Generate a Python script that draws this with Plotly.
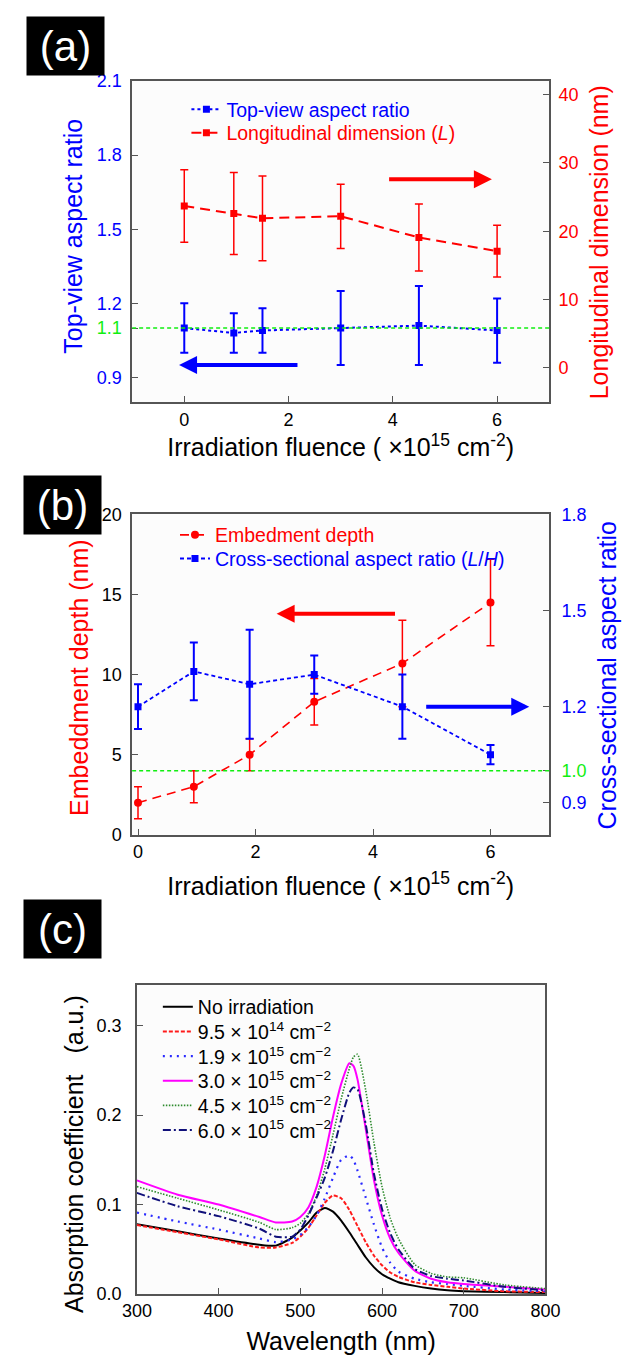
import plotly.graph_objects as go

W, H = 629, 1365

# ---------------- data ----------------
# panel (a)
fluence_a = [0, 0.95, 1.5, 3, 4.5, 6]
topview_ar = [1.10, 1.08, 1.09, 1.10, 1.11, 1.09]
topview_err = [0.10, 0.08, 0.09, 0.15, 0.16, 0.13]
long_dim = [23.7, 22.6, 21.9, 22.2, 19.1, 17.1]
long_err = [5.3, 6.0, 6.2, 4.7, 4.9, 3.8]
ref_a = 1.1

# panel (b)
fluence_b = [0, 0.95, 1.9, 3, 4.5, 6]
embed_depth = [2.0, 3.0, 5.0, 8.3, 10.7, 14.5]
embed_err = [1.0, 1.0, 1.0, 1.45, 2.7, 2.7]
cross_ar = [1.20, 1.31, 1.27, 1.30, 1.20, 1.05]
cross_err = [0.07, 0.09, 0.17, 0.06, 0.10, 0.03]
ref_b = 1.0

# panel (c)
wavelength = [300, 350, 400, 450, 470, 490, 500, 510, 520, 530, 540, 550, 560,
              565, 570, 580, 590, 600, 610, 620, 640, 660, 680, 700, 750, 800]
abs_none = [.078, .070, .062, .055, .054, .063, .071, .080, .091, .096, .092, .082, .069,
            .062, .055, .041, .030, .022, .017, .013, .009, .006, .004, .003, .002, .001]
abs_95e14 = [.077, .069, .061, .052, .052, .057, .064, .074, .088, .102, .110, .107, .094,
             .085, .076, .058, .043, .032, .024, .019, .013, .010, .008, .006, .003, .002]
abs_19e15 = [.091, .081, .072, .062, .058, .061, .066, .075, .088, .107, .130, .150, .155,
             .150, .138, .108, .078, .052, .035, .025, .017, .013, .011, .009, .005, .003]
abs_30e15 = [.127, .111, .100, .086, .080, .081, .086, .097, .120, .155, .198, .235, .258,
             .255, .240, .185, .128, .088, .062, .046, .026, .017, .013, .011, .008, .005]
abs_45e15 = [.120, .107, .094, .080, .072, .074, .079, .090, .110, .140, .178, .218, .252,
             .265, .268, .228, .170, .120, .085, .062, .033, .023, .019, .018, .010, .006]
abs_60e15 = [.113, .098, .087, .073, .064, .064, .072, .088, .108, .130, .160, .195, .225,
             .231, .229, .190, .135, .095, .068, .050, .028, .020, .017, .015, .008, .004]
labels_c = ["No irradiation",
            "9.5 × 10<sup>14</sup> cm<sup>−2</sup>",
            "1.9 × 10<sup>15</sup> cm<sup>−2</sup>",
            "3.0 × 10<sup>15</sup> cm<sup>−2</sup>",
            "4.5 × 10<sup>15</sup> cm<sup>−2</sup>",
            "6.0 × 10<sup>15</sup> cm<sup>−2</sup>"]

FONT = "Arial, Liberation Sans, sans-serif"
BLUE = "#0000ff"
RED = "#ff0000"
GREEN = "#11ee11"
FRAME = "#555555"
TITLE_SIZE = 25
TICK_SIZE = 18
LEG_SIZE = 19.5


def px(x):
    return x / W


def py(y):
    return 1 - y / H


fig = go.Figure()

# ---- (a)
fig.add_trace(go.Scatter(
    x=fluence_a, y=topview_ar, name="Top-view aspect ratio", mode="lines+markers",
    line=dict(color=BLUE, width=2, dash="3px,3px"),
    marker=dict(symbol="square", size=7, color=BLUE),
    error_y=dict(type="data", array=topview_err, color=BLUE, thickness=2, width=4),
    xaxis="x", yaxis="y", legend="legend"))
fig.add_trace(go.Scatter(
    x=fluence_a, y=long_dim, name="Longitudinal dimension (<i>L</i>)", mode="lines+markers",
    line=dict(color=RED, width=2, dash="10px,6px"),
    marker=dict(symbol="square", size=7, color=RED),
    error_y=dict(type="data", array=long_err, color=RED, thickness=1.5, width=4),
    xaxis="x", yaxis="y2", legend="legend2"))

# ---- (b)
fig.add_trace(go.Scatter(
    x=fluence_b, y=embed_depth, name="Embedment depth", mode="lines+markers",
    line=dict(color=RED, width=1.6, dash="9px,6px"),
    marker=dict(symbol="circle", size=8, color=RED),
    error_y=dict(type="data", array=embed_err, color=RED, thickness=1.5, width=4),
    xaxis="x2", yaxis="y3", legend="legend3"))
fig.add_trace(go.Scatter(
    x=fluence_b, y=cross_ar, name="Cross-sectional aspect ratio (<i>L</i>/<i>H</i>)",
    mode="lines+markers",
    line=dict(color=BLUE, width=1.8, dash="4px,3px"),
    marker=dict(symbol="square", size=7, color=BLUE),
    error_y=dict(type="data", array=cross_err, color=BLUE, thickness=2, width=4),
    xaxis="x2", yaxis="y4", legend="legend4"))

# ---- (c)
styles_c = [
    ("#000000", "solid", 2),
    ("#ff1a1a", "4px,2px", 2),
    ("#2a2aff", "2px,5px", 2.2),
    ("#ff00ff", "solid", 2),
    ("#2e8b2e", "1.5px,1.5px", 1.6),
    ("#10107a", "8px,3px,2px,3px", 2),
]
series_c = [abs_none, abs_95e14, abs_19e15, abs_30e15, abs_45e15, abs_60e15]
for i, (vals, (col, dash, wdt), lab) in enumerate(zip(series_c, styles_c, labels_c)):
    fig.add_trace(go.Scatter(
        x=wavelength, y=vals, name=lab, mode="lines",
        line=dict(color=col, dash=dash, width=wdt, shape="spline", smoothing=0.6),
        xaxis="x3", yaxis="y5", legend="legend%d" % (5 + i)))

# ---------------- layout ----------------
dom_x_ab = [px(123), px(561)]
dom_x_c = [px(128), px(557)]
common_ax = dict(showline=True, linecolor=FRAME, linewidth=1.5, ticks="inside",
                 ticklen=6, tickcolor=FRAME, showgrid=False, zeroline=False)
xtitle_ab = "Irradiation fluence ( ×10<sup>15</sup> cm<sup>-2</sup>)"

layout = dict(
    width=W, height=H, margin=dict(l=0, r=0, t=0, b=0),
    paper_bgcolor="white", plot_bgcolor="#fcfcfc",
    font=dict(family=FONT, size=TICK_SIZE, color="black"),
    showlegend=True,
    xaxis=dict(domain=dom_x_ab, range=[-1, 7], tickvals=[0, 2, 4, 6], anchor="y",
               mirror=True, tickfont=dict(size=TICK_SIZE),
               title=dict(text=xtitle_ab, font=dict(size=TITLE_SIZE), standoff=5),
               **common_ax),
    yaxis=dict(domain=[py(398), py(72)], range=[0.8, 2.1], anchor="x",
               tickvals=[0.9, 1.1, 1.2, 1.5, 1.8, 2.1],
               ticktext=["0.9", "<span style='color:#11ee11'>1.1</span>", "1.2", "1.5", "1.8", "2.1"],
               tickfont=dict(color=BLUE, size=TICK_SIZE), mirror=True, ticklabelstandoff=5,
               **common_ax),
    yaxis2=dict(overlaying="y", side="right", range=[-5, 42], anchor="x",
                tickvals=[0, 10, 20, 30, 40], tickfont=dict(color=RED, size=TICK_SIZE),
                ticklabelstandoff=4, **common_ax),
    xaxis2=dict(domain=dom_x_ab, range=[-0.1, 7], tickvals=[0, 2, 4, 6], anchor="y3",
                mirror=True, tickfont=dict(size=TICK_SIZE),
                title=dict(text=xtitle_ab, font=dict(size=TITLE_SIZE), standoff=16),
                **common_ax),
    yaxis3=dict(domain=[py(837), py(512)], range=[0, 20], anchor="x2",
                tickvals=[0, 5, 10, 15, 20], tickfont=dict(size=TICK_SIZE), mirror=True,
                ticklabelstandoff=5, **common_ax),
    yaxis4=dict(overlaying="y3", side="right", range=[0.8, 1.8], anchor="x2",
                tickvals=[0.9, 1.0, 1.2, 1.5, 1.8],
                ticktext=["0.9", "<span style='color:#11ee11'>1.0</span>", "1.2", "1.5", "1.8"],
                tickfont=dict(color=BLUE, size=TICK_SIZE), ticklabelstandoff=7,
                **common_ax),
    xaxis3=dict(domain=dom_x_c, range=[300, 800], dtick=100, anchor="y5", mirror=True,
                tickfont=dict(size=TICK_SIZE),
                title=dict(text="Wavelength (nm)", font=dict(size=TITLE_SIZE), standoff=12),
                **common_ax),
    yaxis5=dict(domain=[py(1303), py(990)], range=[0, 0.345], anchor="x3",
                tickvals=[0, 0.1, 0.2, 0.3], ticktext=["0.0", "0.1", "0.2", "0.3"],
                tickfont=dict(size=TICK_SIZE), mirror=True, ticklabelstandoff=10,
                **common_ax),
)

# one legend box per legend row, so that the row spacing can follow the reference
legend_rows = [
    ("legend", 180, 101, BLUE), ("legend2", 180, 125, RED),
    ("legend3", 168, 533, RED), ("legend4", 168, 557, BLUE),
]
for i, yy in enumerate([1012, 1037, 1062, 1087, 1112, 1137]):
    legend_rows.append(("legend%d" % (5 + i), 150, yy, "black"))
for name, lx, ly, col in legend_rows:
    layout[name] = dict(x=px(lx), y=py(ly), xanchor="left", yanchor="middle",
                        bgcolor="rgba(0,0,0,0)", borderwidth=0,
                        font=dict(size=LEG_SIZE, color=col, family=FONT))

fig.update_layout(**layout)

# reference lines
fig.add_shape(type="line", xref="x domain", x0=0, x1=1, yref="y", y0=ref_a, y1=ref_a,
              line=dict(color=GREEN, width=1.6, dash="4px,3px"))
fig.add_shape(type="line", xref="x2 domain", x0=0, x1=1, yref="y4", y0=ref_b, y1=ref_b,
              line=dict(color=GREEN, width=1.6, dash="4px,3px"))

# direction arrows
arrows = [
    dict(x=5.9, y=27.6, ax=3.9, ay=27.6, xref="x", yref="y2", color=RED),
    dict(x=-0.1, y=0.95, ax=2.2, ay=0.95, xref="x", yref="y", color=BLUE),
    dict(x=2.36, y=13.8, ax=4.4, ay=13.8, xref="x2", yref="y3", color=RED),
    dict(x=6.66, y=1.2, ax=4.88, ay=1.2, xref="x2", yref="y4", color=BLUE),
]
for a in arrows:
    fig.add_annotation(x=a["x"], y=a["y"], ax=a["ax"], ay=a["ay"], xref=a["xref"], yref=a["yref"],
                       axref=a["xref"], ayref=a["yref"], text="", showarrow=True,
                       arrowhead=2, arrowsize=0.9, arrowwidth=4, arrowcolor=a["color"])

# vertical axis titles
ytitles = [
    ("Top-view aspect ratio", 61, 230, BLUE),
    ("Longitudinal dimension (nm)", 613, 236, RED),
    ("Embeddment depth (nm)", 67, 677, RED),
    ("Cross-sectional aspect ratio", 622, 675, BLUE),
    ("Absorption coefficient\u00a0\u00a0\u00a0(a.u.)", 62, 1161, "black"),
]
for txt, tx, ty, col in ytitles:
    fig.add_annotation(text=txt, xref="paper", yref="paper", x=px(tx), y=py(ty),
                       xanchor="center", yanchor="middle", textangle=-90, showarrow=False,
                       font=dict(size=TITLE_SIZE, color=col, family=FONT))

# panel labels
for lab, x0, y0 in [("(a)", 12, 6), ("(b)", 8, 472), ("(c)", 8, 902)]:
    fig.add_annotation(text=lab, xref="paper", yref="paper", x=px(x0), y=py(y0),
                       xanchor="left", yanchor="top", showarrow=False,
                       width=77, height=58, bgcolor="black", borderpad=0,
                       font=dict(color="white", size=42, family=FONT))

fig.write_html("out.html")
